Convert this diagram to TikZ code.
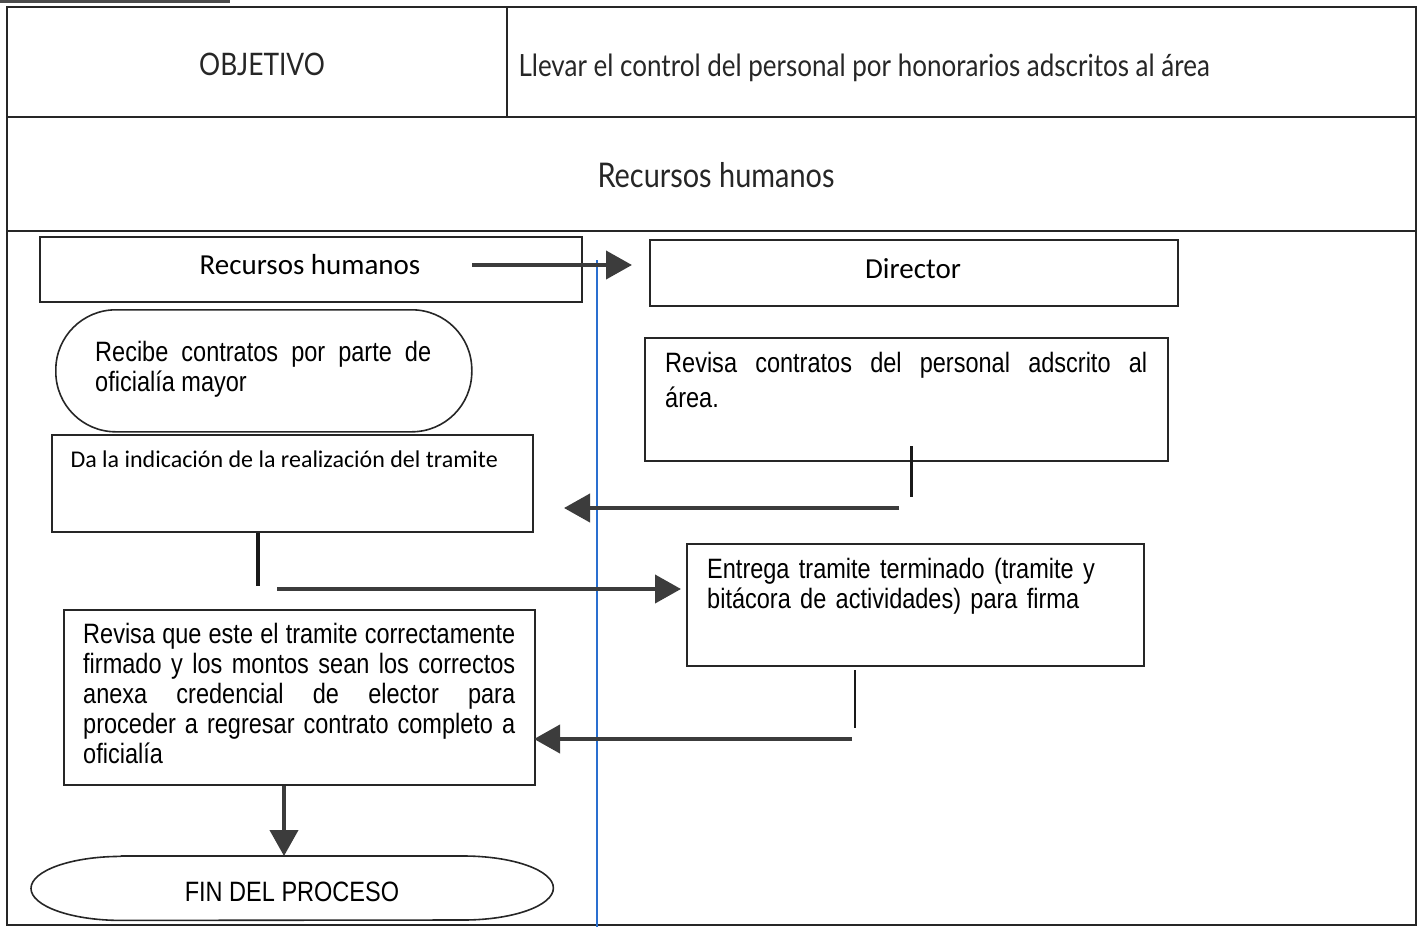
\documentclass[tikz,border=0pt]{standalone}
\usepackage{fontspec}
\usetikzlibrary{arrows.meta,calc}
\newfontfamily\hdrfont[FakeStretch=0.85]{Lato}
\newfontfamily\calfont{Carlito}
\newfontfamily\narfont[FakeStretch=0.84]{Liberation Sans}
\definecolor{arrowgray}{HTML}{3C3C3C}
\definecolor{laneblue}{HTML}{2A6FD0}
\tikzset{
  frame/.style={draw=black!85, line width=1.6pt},
  box/.style={draw=black!85, line width=1.6pt, inner sep=0pt, anchor=north west},
  stadium/.style={draw=black!85, line width=1.6pt, inner sep=0pt, anchor=north west},
  outline/.style={draw=black!85, line width=1.6pt, line join=round},
  txt/.style={inner sep=0pt, anchor=north west},
  bigarrow/.style={draw=arrowgray, line width=4pt, -{Triangle[length=26pt,width=28pt]}},
  stem/.style={draw=black!90, line width=3pt},
}
\begin{document}
\begin{tikzpicture}[x=1pt,y=-1pt]
\useasboundingbox (0,0) rectangle (1419,927);
% scan edge
\draw[black!70, line width=3pt] (0,1) -- (230,1);
% outer frame and header rows
\draw[frame] (7,7) rectangle (1416,925);
\draw[frame] (7,117) -- (1416,117);
\draw[frame] (7,231) -- (1416,231);
\draw[frame] (507,7) -- (507,117);
\node[anchor=base, font=\hdrfont\fontsize{31}{36}\selectfont, text=black!85] (obj) at (262,75) {OBJETIVO};
\node[anchor=base west, font=\hdrfont\fontsize{30.6}{36}\selectfont, text=black!85] (objtxt) at (515,76) {Llevar el control del personal por honorarios adscritos al área};
\node[anchor=base, font=\hdrfont\fontsize{34}{40}\selectfont, text=black!85] (area) at (716,187) {Recursos humanos};
% lane line
\draw[laneblue, line width=1.5pt] (597,260) -- (597,927);
% lane headers
\node[box, minimum width=542pt, minimum height=65pt] (rh) at (39,236) {};
\node[anchor=base, font=\calfont\fontsize{29}{34}\selectfont] (rhtxt) at (310,274) {Recursos humanos};
\node[box, minimum width=528pt, minimum height=66pt] (dir) at (649,239) {};
\node[anchor=base, font=\calfont\fontsize{29}{34}\selectfont] (dirtxt) at (913,278) {Director};
% steps
\node[stadium, rounded corners=60pt, minimum width=416pt, minimum height=122pt] (recibe) at (55,309) {};
\node[txt, text width=336pt, align=justify, font=\narfont\fontsize{28}{30}\selectfont] (recibetxt) at (95,340) {\strut Recibe contratos por parte de\linebreak oficialía mayor};
\node[box, minimum width=481pt, minimum height=97pt] (da) at (51,434) {};
\node[anchor=base west, font=\calfont\fontsize{24}{28}\selectfont] (datxt) at (67,467) {Da la indicación de la realización del tramite};
\node[box, minimum width=523pt, minimum height=123pt] (revc) at (644,337) {};
\node[txt, text width=482pt, align=justify, font=\narfont\fontsize{28}{35}\selectfont] (revctxt) at (665,348) {\strut Revisa contratos del personal adscrito al\linebreak área.};
\node[box, minimum width=457pt, minimum height=122pt] (ent) at (686,543) {};
\node[txt, text width=420pt, align=left, font=\narfont\fontsize{28}{29.5}\selectfont] (enttxt) at (707,558) {\strut Entrega tramite terminado (tramite y\\ bitácora de actividades) para firma};
\node[box, minimum width=471pt, minimum height=175pt] (revq) at (63,609) {};
\node[txt, text width=432pt, align=justify, font=\narfont\fontsize{28}{30}\selectfont] (revqtxt) at (83,622) {\strut Revisa que este el tramite correctamente\linebreak firmado y los montos sean los correctos\linebreak anexa credencial de elector para\linebreak proceder a regresar contrato completo a\linebreak oficialía};
\node[inner sep=0pt, anchor=north west, minimum width=522pt, minimum height=64pt] (fin) at (31,856) {};
\draw[outline] ($(fin.north west)+(90,0)$) -- ($(fin.north east)+(-90,0)$)
  arc[start angle=90, end angle=-90, x radius=90pt, y radius=32pt]
  -- ($(fin.south west)+(90,0)$)
  arc[start angle=270, end angle=90, x radius=90pt, y radius=32pt] -- cycle;
\node[anchor=base, font=\narfont\fontsize{28}{30}\selectfont] (fintxt) at (292,901) {FIN DEL PROCESO};
% connector points
\coordinate (a1s) at (472,265);
\coordinate (a1e) at (632,265);
\coordinate (s2a) at (911,446);
\coordinate (s2b) at (911,497);
\coordinate (a2s) at (899,508);
\coordinate (a2e) at (564,508);
\coordinate (s3b) at (258,586);
\coordinate (a3s) at (277,589);
\coordinate (a3e) at (681,589);
\coordinate (s4a) at (855,670);
\coordinate (s4b) at (855,728);
\coordinate (a4s) at (852,739);
\coordinate (a4e) at (534,739);
\coordinate (a5e) at (284,856);
% connectors
\draw[bigarrow] (a1s) -- (a1e);
\draw[stem] (s2a) -- (s2b);
\draw[bigarrow] (a2s) -- (a2e);
\draw[stem, line width=4pt] (da.south west -| s3b) -- (s3b);
\draw[bigarrow] (a3s) -- (a3e);
\draw[stem, line width=1.5pt] (s4a) -- (s4b);
\draw[bigarrow] (a4s) -- (a4e);
\draw[bigarrow] (revq.south west -| a5e) -- (a5e);
\end{tikzpicture}
\end{document}
